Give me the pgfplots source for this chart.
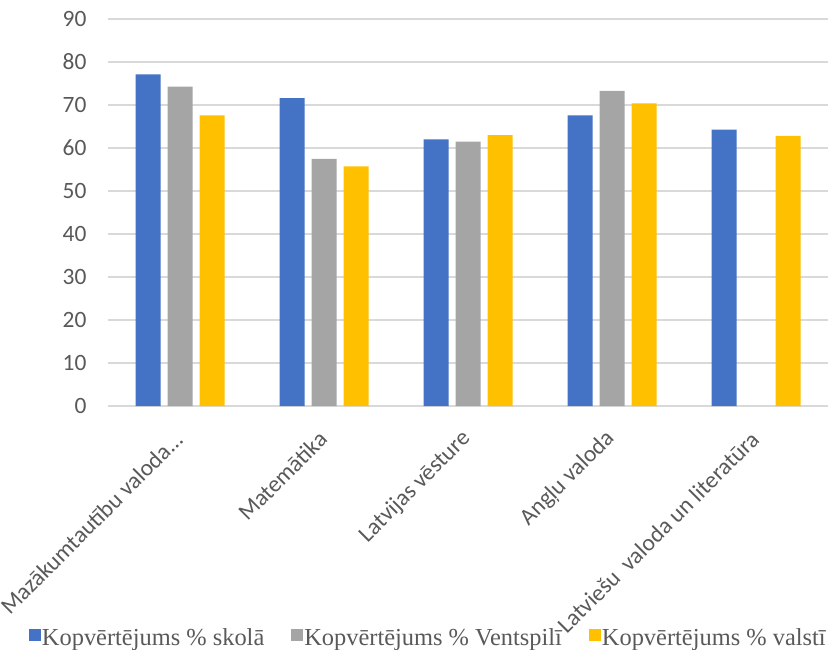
\documentclass[border=0pt]{standalone}
\usepackage{fontspec}
\setmainfont{Carlito}
\newfontfamily\legfont{Liberation Serif}
\usepackage{pgfplots}
\pgfplotsset{compat=1.18}

\definecolor{sblue}{HTML}{4472C4}
\definecolor{sgray}{HTML}{A5A5A5}
\definecolor{syellow}{HTML}{FFC000}
\definecolor{gridc}{HTML}{D9D9D9}
\definecolor{txt}{HTML}{595959}

\begin{document}
\begin{tikzpicture}
\begin{axis}[
    name=ax,
    scale only axis,
    width=720bp, height=387bp,
    ybar=7bp, bar width=25bp,
    xmin=-0.5, xmax=4.5,
    ymin=0, ymax=90,
    ytick={0,10,...,90},
    xtick={0,1,2,3,4},
    xticklabels={{Mazākumtautību valoda.{}.{}.}, Matemātika, Latvijas vēsture, Angļu valoda, Latviešu~ valoda un literatūra},
    major tick length=0pt,
    axis x line*=bottom,
    axis y line*=left,
    y axis line style={draw=none},
    x axis line style={draw=gridc, line width=1.2bp},
    ymajorgrids,
    grid style={draw=gridc, line width=1.2bp},
    tick label style={font=\fontsize{23.5}{28}\selectfont, text=txt},
    /pgf/number format/assume math mode=true,
    yticklabel style={xshift=-18bp},
    xticklabel style={rotate=45, anchor=east, xshift=-18bp, yshift=-20bp},
    legend columns=3,
    legend style={draw=none, fill=none, inner sep=0pt,
        at={(-0.11,-0.628)}, anchor=south west,
        font=\legfont\fontsize{24.5}{27}\selectfont, text=txt,
        /tikz/every odd column/.style={column sep=0bp},
        /tikz/every even column/.style={column sep=26bp},
        nodes={inner xsep=1bp}},
    legend image code/.code={\fill[#1] (0bp,-3bp) rectangle (12bp,9bp);},
]
\addplot[fill=sblue, draw=none] coordinates {(0,77.1) (1,71.6) (2,62.0) (3,67.6) (4,64.3)};
\addplot[fill=sgray, draw=none] coordinates {(0,74.3) (1,57.5) (2,61.5) (3,73.3)};
\addplot[fill=syellow, draw=none] coordinates {(0,67.6) (1,55.7) (2,63.0) (3,70.4) (4,62.8)};
\legend{Kopvērtējums \% skolā, Kopvērtējums \% Ventspilī, Kopvērtējums \% valstī}
\end{axis}
\pgfresetboundingbox
\path ([shift={(-108bp,-243bp)}]ax.south west) rectangle ([shift={(1bp,19bp)}]ax.north east);
\end{tikzpicture}
\end{document}
